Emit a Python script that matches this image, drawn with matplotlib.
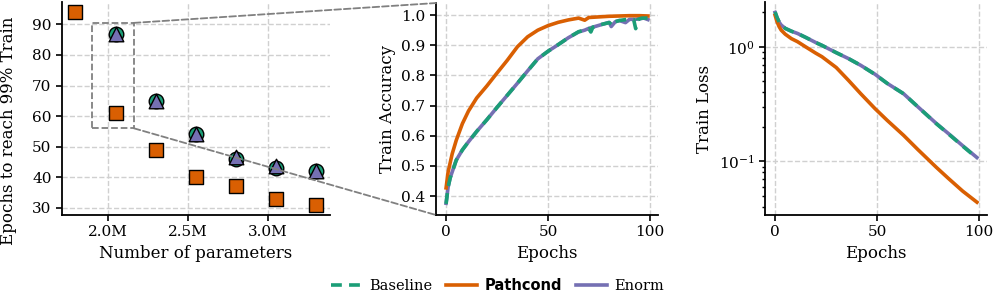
import numpy as np
import matplotlib
matplotlib.use("Agg")
from matplotlib import pyplot as plt
from matplotlib.patches import Rectangle, ConnectionPatch

plt.rcParams['font.family'] = 'DejaVu Serif'
plt.rcParams['mathtext.fontset'] = 'dejavuserif'

c_base = '#1b9e77'
c_path = '#d95f02'
c_enorm = '#7570b3'

# panel 1: epochs to reach 99% train vs number of parameters (millions)
params_path = [1.79, 2.05, 2.30, 2.55, 2.80, 3.05, 3.30]
epochs_path = [94, 61, 49, 40, 37, 33, 31]
params_base = [2.05, 2.30, 2.55, 2.80, 3.05, 3.30]
epochs_base = [87, 65, 54, 46, 43, 42]
params_enorm = [2.05, 2.30, 2.55, 2.80, 3.05, 3.30]
epochs_enorm = [87, 65, 54, 46.5, 43.5, 42]

# panel 2: train accuracy
ep_path_acc = [0, 1, 2, 3, 5, 8, 11, 15, 20, 25, 30, 35, 40, 45, 50, 55, 60,
               65, 68, 70, 75, 80, 85, 90, 95, 99]
acc_path = [0.427, 0.48, 0.51, 0.54, 0.585, 0.64, 0.682, 0.725, 0.765, 0.808,
            0.85, 0.895, 0.928, 0.95, 0.965, 0.976, 0.984, 0.99, 0.983, 0.992,
            0.994, 0.996, 0.997, 0.998, 0.998, 0.997]
ep_base_acc = [0, 1, 2, 3, 5, 8, 11, 15, 20, 25, 30, 35, 40, 45, 50, 55, 60,
               65, 68, 70, 71, 72, 75, 80, 82, 83, 85, 88, 90, 92, 93, 94, 96, 99]
acc_base = [0.374, 0.43, 0.46, 0.48, 0.519, 0.553, 0.58, 0.614, 0.653, 0.694,
            0.734, 0.774, 0.815, 0.855, 0.88, 0.902, 0.925, 0.945, 0.95, 0.955,
            0.944, 0.96, 0.967, 0.975, 0.965, 0.978, 0.982, 0.985, 0.986, 0.985,
            0.955, 0.985, 0.99, 0.99]
ep_enorm_acc = [0, 1, 2, 3, 5, 8, 11, 15, 20, 25, 30, 35, 40, 45, 50, 55, 60,
                65, 68, 70, 72, 75, 78, 80, 81, 83, 85, 88, 90, 93, 95, 97, 99]
acc_enorm = [0.376, 0.43, 0.46, 0.48, 0.519, 0.553, 0.58, 0.614, 0.653, 0.694,
             0.734, 0.774, 0.815, 0.855, 0.88, 0.902, 0.925, 0.944, 0.95, 0.956,
             0.96, 0.966, 0.972, 0.976, 0.962, 0.978, 0.982, 0.975, 0.986, 0.986,
             0.988, 0.99, 0.985]

# panel 3: train loss
ep_loss = [0, 1, 2, 3, 5, 8, 11, 15, 20, 23, 30, 36, 42, 49, 55, 63, 70, 79,
           85, 92, 99]
loss_base = [2.02, 1.8, 1.65, 1.55, 1.45, 1.37, 1.31, 1.21, 1.09, 1.03, 0.89,
             0.79, 0.69, 0.575, 0.48, 0.39, 0.30, 0.214, 0.174, 0.136, 0.107]
loss_enorm = [2.0, 1.79, 1.64, 1.55, 1.45, 1.37, 1.31, 1.21, 1.09, 1.03, 0.89,
              0.79, 0.69, 0.577, 0.48, 0.39, 0.30, 0.215, 0.175, 0.137, 0.108]
loss_path = [1.89, 1.65, 1.5, 1.40, 1.29, 1.18, 1.11, 1.0, 0.88, 0.82, 0.66,
             0.51, 0.39, 0.289, 0.228, 0.169, 0.127, 0.089, 0.071, 0.055, 0.044]

fig = plt.figure(figsize=(9.97, 3.02), dpi=100)
ax1 = fig.add_axes([0.0622, 0.288, 0.2688, 0.705])
ax2 = fig.add_axes([0.4373, 0.288, 0.2227, 0.702])
ax3 = fig.add_axes([0.7673, 0.288, 0.2227, 0.705])

grid_kw = dict(color='#d0d0d0', linestyle='--', linewidth=1.0)
for ax in (ax1, ax2, ax3):
    ax.grid(True, **grid_kw)
    ax.set_axisbelow(True)
    for s in ('top', 'right'):
        ax.spines[s].set_visible(False)
    for s in ('left', 'bottom'):
        ax.spines[s].set_linewidth(1.3)
    ax.tick_params(labelsize=11, width=1.2, length=4)

# panel 1
ax1.scatter(params_path, epochs_path, marker='s', s=110, color=c_path,
            edgecolor='black', linewidth=1.0, zorder=3)
ax1.scatter(params_base, epochs_base, marker='o', s=110, color=c_base,
            edgecolor='black', linewidth=1.0, zorder=3)
ax1.scatter(params_enorm, epochs_enorm, marker='^', s=110, color=c_enorm,
            edgecolor='black', linewidth=1.0, zorder=4)
ax1.set_xlim(1.71, 3.39)
ax1.set_ylim(27.6, 97.3)
ax1.set_xticks([2.0, 2.5, 3.0])
ax1.set_xticklabels(['2.0M', '2.5M', '3.0M'])
ax1.set_yticks([30, 40, 50, 60, 70, 80, 90])
ax1.set_xlabel('Number of parameters', fontsize=12)
ax1.set_ylabel('Epochs to reach 99% Train', fontsize=12)
ax1.yaxis.set_label_coords(-0.167, 0.394)

rect = Rectangle((1.9, 56), 0.26, 34.5, fill=False, edgecolor='gray',
                 linestyle='--', linewidth=1.3, zorder=5)
ax1.add_patch(rect)
for yy, ya in ((90.5, 1.0), (56, 0.0)):
    con = ConnectionPatch(xyA=(2.16, yy), coordsA=ax1.transData,
                          xyB=(0.0, ya), coordsB=ax2.transAxes,
                          color='gray', linestyle='--', linewidth=1.3)
    fig.add_artist(con)

# panel 2
ax2.plot(ep_enorm_acc, acc_enorm, color=c_enorm, lw=2.6, label='Enorm')
ax2.plot(ep_path_acc, acc_path, color=c_path, lw=2.6, label='Pathcond')
ax2.plot(ep_base_acc, acc_base, color=c_base, lw=2.6, ls=(0, (3, 2)), label='Baseline')
ax2.set_xlim(-4.95, 103.95)
ax2.set_ylim(0.337, 1.04)
ax2.set_xticks([0, 50, 100])
ax2.set_yticks([0.4, 0.5, 0.6, 0.7, 0.8, 0.9, 1.0])
ax2.set_xlabel('Epochs', fontsize=12)
ax2.set_ylabel('Train Accuracy', fontsize=12)

# panel 3
ax3.plot(ep_loss, loss_enorm, color=c_enorm, lw=2.6)
ax3.plot(ep_loss, loss_path, color=c_path, lw=2.6)
ax3.plot(ep_loss, loss_base, color=c_base, lw=2.6, ls=(0, (3, 2)))
ax3.set_yscale('log')
ax3.set_xlim(-4.95, 103.95)
ax3.set_ylim(0.034, 2.46)
ax3.set_xticks([0, 50, 100])
ax3.set_xlabel('Epochs', fontsize=12)
ax3.set_ylabel('Train Loss', fontsize=12)
ax3.tick_params(which='minor', width=1.0, length=2.5)

h, l = ax2.get_legend_handles_labels()
order = [2, 1, 0]
leg = fig.legend([h[i] for i in order], [l[i] for i in order], loc='lower center',
                 bbox_to_anchor=(0.499, -0.015), ncol=3, frameon=False, fontsize=10.5,
                 handlelength=2.1, handletextpad=0.5, columnspacing=1.0)
t = leg.get_texts()[1]
t.set_fontfamily('DejaVu Sans')
t.set_fontweight('bold')

fig.savefig('out.png', dpi=100)
